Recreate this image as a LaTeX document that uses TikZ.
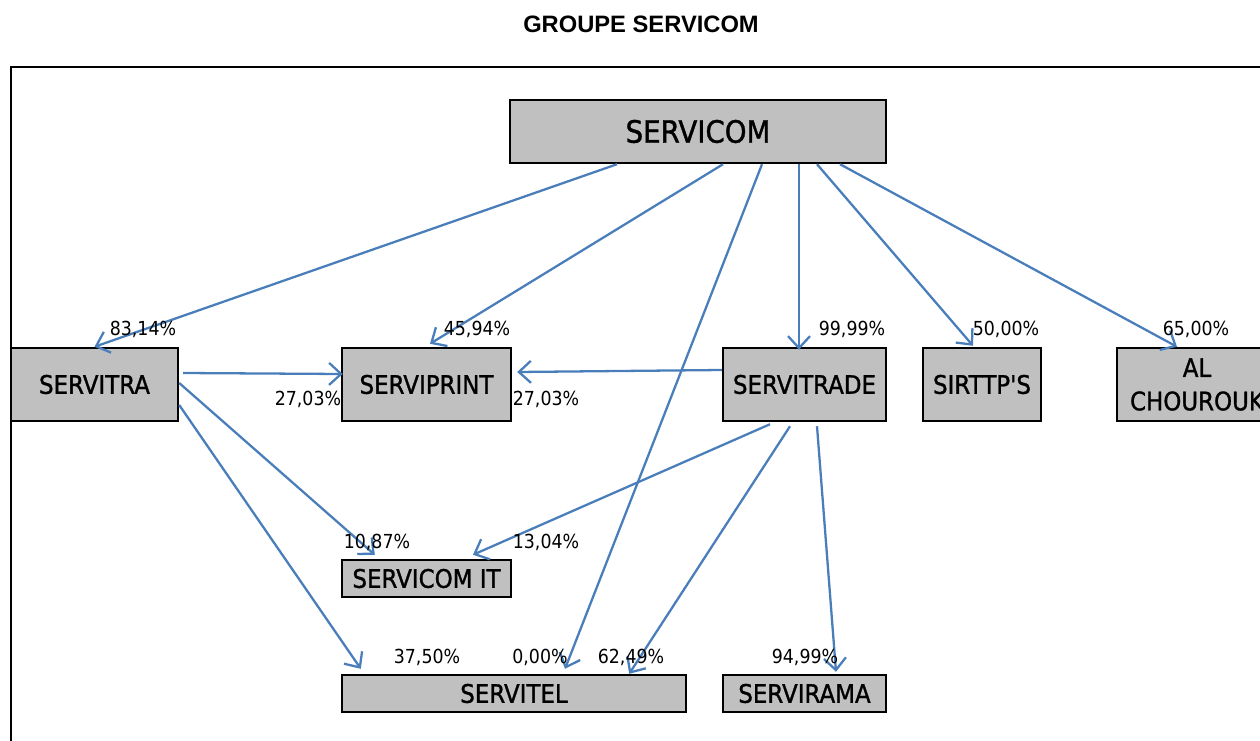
\documentclass[tikz,border=0pt]{standalone}
\usepackage{fontspec}
\usetikzlibrary{arrows.meta,calc}
\newfontfamily\boxfont[FakeStretch=0.9,FakeBold=1.2]{DejaVu Sans}
\newfontfamily\pctfont[FakeStretch=0.9]{DejaVu Sans}
\newfontfamily\titlefont{Liberation Sans}
\definecolor{linkblue}{HTML}{4A7EBB}
\definecolor{boxgray}{HTML}{C0C0C0}
\begin{document}
\begin{tikzpicture}[x=0.02cm, y=-0.02cm,
		company/.style={draw, line width=1.4pt, fill=boxgray, inner sep=0pt, align=center,
			font=\boxfont\fontsize{14.5}{19}\selectfont},
		pct/.style={inner sep=0pt, font=\pctfont\fontsize{11}{13}\selectfont},
		link/.style={draw=linkblue, line width=1.3pt, -{Straight Barb[length=2.4mm,width=4.4mm]}}]
	\useasboundingbox (0,0) rectangle (1260,740);

		\node at (641,24) (title) {\titlefont\bfseries\fontsize{13.5}{16}\selectfont GROUPE SERVICOM};
		\draw [line width=1.1pt] (11,760) |- (1290,67);

		% companies
		\node [company, minimum width=7.52cm, minimum height=1.26cm,
			font=\boxfont\fontsize{17.5}{20}\selectfont] at (698,131.5) (servicom) {SERVICOM};
		\node [company, minimum width=3.34cm, minimum height=1.46cm] at (94.5,384.5) (servitra) {SERVITRA};
		\node [company, minimum width=3.38cm, minimum height=1.46cm] at (426.5,384.5) (serviprint) {SERVIPRINT};
		\node [company, minimum width=3.26cm, minimum height=1.46cm] at (804.5,384.5) (servitrade) {SERVITRADE};
		\node [company, minimum width=2.36cm, minimum height=1.46cm] at (982,384.5) (sirttp) {SIRTTP'S};
		\node [company, minimum width=3.2cm, minimum height=1.46cm] at (1197,384.5) (alchourouk) {AL\\CHOUROUK};
		\node [company, minimum width=3.38cm, minimum height=0.74cm] at (426.5,578.5) (servicomit) {SERVICOM IT};
		\node [company, minimum width=6.88cm, minimum height=0.74cm] at (514,693.5) (servitel) {SERVITEL};
		\node [company, minimum width=3.26cm, minimum height=0.74cm] at (804.5,693.5) (servirama) {SERVIRAMA};

		% holdings of SERVICOM
		\draw [link] ($(servicom.south)+(-81,0)$) -- (servitra.north);
		\draw [link] ($(servicom.south)+(25,0)$) -- ($(serviprint.north)+(3.5,-3)$);
		\draw [link] ($(servicom.south)+(64,0)$) -- ($(servitel.north)+(51,-5)$);
		\draw [link] ($(servicom.south)+(101,0)$) -- ($(servitrade.north)+(-5.5,3)$);
		\draw [link] ($(servicom.south)+(119,0)$) -- ($(sirttp.north)+(-9,-1)$);
		\draw [link] ($(servicom.south)+(142,0)$) -- ($(alchourouk.north)+(-20,0)$);

		% holdings of SERVITRA
		\draw [link] ($(servitra.east)+(4,-11.5)$) -- ($(serviprint.west)+(2,-10.5)$);
		\draw [link] ($(servitra.east)+(0,-1.5)$) -- ($(servicomit.north west)+(34,-4)$);
		\draw [link] ($(servitra.east)+(0,20.5)$) -- ($(servitel.north west)+(20,-5)$);

		% holdings of SERVITRADE
		\draw [link] ($(servitrade.west)+(0,-14.5)$) -- ($(serviprint.east)+(5,-12.5)$);
		\draw [link] ($(servitrade.south)+(-34.5,2)$) -- ($(servicomit.north)+(46.5,-4)$);
		\draw [link] ($(servitrade.south)+(-14.5,4)$) -- ($(servitel.north east)+(-58,0)$);
		\draw [link] ($(servitrade.south)+(12.5,4)$) -- ($(servirama.north)+(31.5,-2)$);

		% percentages
		\node [pct] at (143,329) (p1) {83,14\%};
		\node [pct] at (477,329) (p2) {45,94\%};
		\node [pct] at (852,329) (p3) {99,99\%};
		\node [pct] at (1006,329) (p4) {50,00\%};
		\node [pct] at (1196,329) (p5) {65,00\%};
		\node [pct] at (308,399) (p6) {27,03\%};
		\node [pct] at (546,399) (p7) {27,03\%};
		\node [pct] at (377,542) (p8) {10,87\%};
		\node [pct] at (546,542) (p9) {13,04\%};
		\node [pct] at (427,657) (p10) {37,50\%};
		\node [pct] at (540,657) (p11) {0,00\%};
		\node [pct] at (631,657) (p12) {62,49\%};
		\node [pct] at (805,657) (p13) {94,99\%};
	\end{tikzpicture}
\end{document}
